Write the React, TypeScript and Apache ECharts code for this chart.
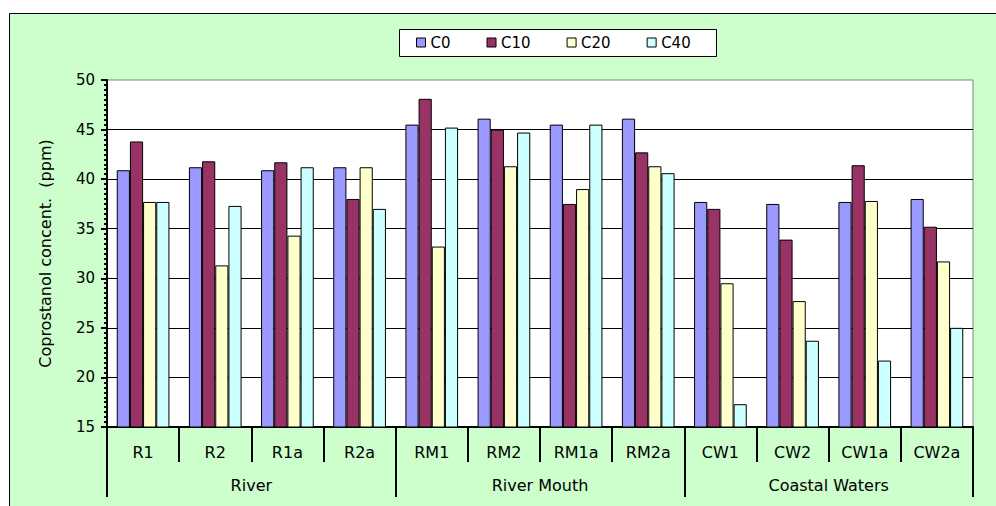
import React, { useEffect, useRef } from "react";
import * as echarts from "echarts";

const sites = ["R1", "R2", "R1a", "R2a", "RM1", "RM2", "RM1a", "RM2a", "CW1", "CW2", "CW1a", "CW2a"];
const groups = ["River", "River Mouth", "Coastal Waters"];
const seriesNames = ["C0", "C10", "C20", "C40"];
const seriesColors = ["#9999FF", "#993366", "#FFFFCC", "#CCFFFF"];
const c0 = [40.9, 41.2, 40.9, 41.2, 45.5, 46.1, 45.5, 46.1, 37.7, 37.5, 37.7, 38.0];
const c10 = [43.8, 41.8, 41.7, 38.0, 48.1, 45.0, 37.5, 42.7, 37.0, 33.9, 41.4, 35.2];
const c20 = [37.7, 31.3, 34.3, 41.2, 33.2, 41.3, 39.0, 41.3, 29.5, 27.7, 37.8, 31.7];
const c40 = [37.7, 37.3, 41.2, 37.0, 45.2, 44.7, 45.5, 40.6, 17.3, 23.7, 21.7, 25.0];
const yTitle = "Coprostanol concent.  (ppm)";

const FONT = "DejaVu Sans";

export default function App() {
  const ref = useRef<HTMLDivElement>(null);
  useEffect(() => {
    if (!ref.current) return;
    const chart = echarts.init(ref.current, null, { renderer: "svg" });
    const values = [c0, c10, c20, c40];
    chart.setOption({
      animation: false,
      backgroundColor: "#ffffff",
      textStyle: { fontFamily: FONT, color: "#000" },
      graphic: [
        {
          type: "rect",
          z: -10,
          silent: true,
          shape: { x: 9.5, y: 13.5, width: 1100, height: 600 },
          style: { fill: "#CCFFCC", stroke: "#000", lineWidth: 1 },
        },
        {
          type: "rect",
          z: 3,
          silent: true,
          shape: { x: 399.5, y: 29.5, width: 317, height: 27 },
          style: { fill: "#ffffff", stroke: "#000", lineWidth: 1 },
        },
      ],
      legend: {
        left: 416,
        top: 35,
        padding: 0,
        itemWidth: 9,
        itemHeight: 9,
        itemGap: 36,
        icon: "rect",
        textStyle: { fontFamily: FONT, fontSize: 15, color: "#000", lineHeight: 15 },
        itemStyle: { borderColor: "#000", borderWidth: 1 },
        data: seriesNames,
      },
      grid: {
        left: 107,
        top: 80,
        right: 23,
        bottom: 79,
        show: true,
        backgroundColor: "#ffffff",
        borderColor: "#808080",
        borderWidth: 1,
        outerBoundsMode: "none",
      },
      xAxis: [
        {
          type: "category",
          data: sites,
          position: "bottom",
          axisLine: { show: true, lineStyle: { color: "#000", width: 2 } },
          axisTick: { show: true, length: 35, interval: 0, lineStyle: { color: "#000", width: 2 } },
          axisLabel: { interval: 0, margin: 17, fontFamily: FONT, fontSize: 16, lineHeight: 16, color: "#000" },
          splitLine: { show: false },
        },
        {
          type: "category",
          data: groups,
          position: "bottom",
          axisLine: { show: false },
          axisTick: { show: true, length: 70, interval: 0, lineStyle: { color: "#000", width: 2 } },
          axisLabel: { interval: 0, margin: 50, fontFamily: FONT, fontSize: 16, lineHeight: 16, color: "#000" },
          splitLine: { show: false },
        },
      ],
      yAxis: {
        type: "value",
        min: 15,
        max: 50,
        interval: 5,
        name: yTitle,
        nameLocation: "middle",
        nameRotate: 90,
        nameGap: 54,
        nameTextStyle: { fontFamily: FONT, fontSize: 16, color: "#000" },
        axisLine: { show: true, lineStyle: { color: "#000", width: 2 } },
        axisTick: { show: true, length: 6, lineStyle: { color: "#000", width: 2 } },
        minorTick: { show: true, splitNumber: 10, length: 3, lineStyle: { color: "#000", width: 2 } },
        axisLabel: { margin: 12, fontFamily: FONT, fontSize: 15, color: "#000" },
        splitLine: { show: true, showMaxLine: false, lineStyle: { color: "#000", width: 1 } },
      },
      series: seriesNames.map((name, i) => ({
        name,
        type: "bar",
        xAxisIndex: 0,
        data: values[i],
        barGap: "0%",
        barCategoryGap: "27%",
        itemStyle: { color: seriesColors[i], borderColor: "#000", borderWidth: 1 },
      })),
    });
    return () => chart.dispose();
  }, []);
  return (
    <div
      ref={ref}
      style={{ position: "fixed", left: 0, top: 0, width: 996, height: 506 }}
    />
  );
}
